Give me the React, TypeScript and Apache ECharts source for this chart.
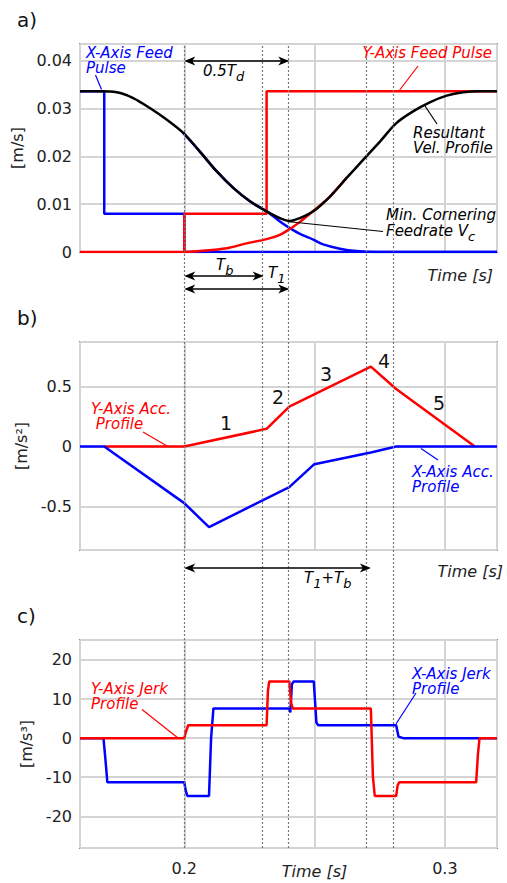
import React, { useEffect, useRef } from 'react';
import * as echarts from 'echarts';

const FONT = 'DejaVu Sans';
const X_MIN = 0.16;
const X_MAX = 0.32;
const eventTimes = [0.2, 0.2316, 0.2403, 0.2716, 0.2813];

// Panel a) velocities [t, m/s]
const xFeedPulse = [[0.16, 0.0336], [0.1693, 0.0336], [0.1693, 0.008], [0.2, 0.008], [0.2, 0], [0.32, 0]];
const yFeedPulse = [[0.16, 0], [0.2, 0], [0.2, 0.008], [0.2316, 0.008], [0.2316, 0.0336], [0.32, 0.0336]];
const resultantVel = [
  [0.16, 0.0336], [0.1677, 0.0336], [0.1741, 0.0334], [0.1804, 0.0322], [0.1868, 0.0301], [0.1932, 0.0277],
  [0.1996, 0.0249], [0.206, 0.021], [0.2124, 0.0169], [0.2188, 0.0134], [0.2252, 0.0106], [0.2316, 0.0085],
  [0.2367, 0.0071], [0.2405, 0.0065], [0.2444, 0.0071], [0.2495, 0.0085], [0.2559, 0.0116], [0.2623, 0.0155],
  [0.2687, 0.0193], [0.2751, 0.0231], [0.2815, 0.027], [0.2878, 0.0294], [0.2942, 0.0313], [0.3007, 0.0327],
  [0.307, 0.0334], [0.3134, 0.0336], [0.32, 0.0336],
];
const xVel = [
  [0.1996, 0.0249], [0.206, 0.021], [0.2124, 0.0169], [0.2188, 0.0134], [0.2252, 0.0106], [0.2316, 0.0085],
  [0.2367, 0.0064], [0.2405, 0.005], [0.2444, 0.0038], [0.2495, 0.0026], [0.2533, 0.0016], [0.2597, 0.0007],
  [0.2661, 0.0002], [0.2738, 0], [0.32, 0],
];
const yVel = [
  [0.2, 0], [0.206, 0.0002], [0.2163, 0.0008], [0.2239, 0.0018], [0.2316, 0.0027], [0.2367, 0.0036],
  [0.2405, 0.0048], [0.2444, 0.0063], [0.2482, 0.008], [0.252, 0.0097], [0.2559, 0.0116], [0.2623, 0.0155],
];

// Panel b) accelerations [t, m/s^2]
const yAcc = [[0.1693, 0], [0.2, 0], [0.2316, 0.148], [0.2403, 0.333], [0.2716, 0.667], [0.2813, 0.48], [0.3115, 0]];
const xAcc = [[0.16, 0], [0.1693, 0], [0.2, -0.472], [0.2095, -0.672], [0.2403, -0.338], [0.2499, -0.147], [0.2716, -0.05], [0.2813, 0], [0.32, 0]];

// Panel c) jerks [t, m/s^3]
const xJerk = [
  [0.16, 0], [0.169, 0], [0.1697, -5], [0.1705, -11.3], [0.2, -11.3], [0.2006, -13.5], [0.2012, -14.8],
  [0.2095, -14.8], [0.2103, 0], [0.2112, 7.6], [0.2403, 7.6], [0.2407, 6.6], [0.2413, 13.8], [0.242, 14.5],
  [0.2497, 14.5], [0.2507, 4], [0.2514, 3.3], [0.2813, 3.3], [0.2822, 0.4], [0.284, 0], [0.32, 0],
];
const yJerk = [
  [0.16, 0], [0.2, 0], [0.2006, 1.5], [0.2015, 3.3], [0.2316, 3.3], [0.2321, 12], [0.2326, 14.5],
  [0.2403, 14.5], [0.241, 9], [0.2416, 7.6], [0.2716, 7.6], [0.2724, -10], [0.2731, -14.8], [0.2813, -14.8],
  [0.2819, -12], [0.2825, -11.3], [0.312, -11.3], [0.3127, -4], [0.3133, 0], [0.32, 0],
];

const BLUE = '#0000ff';
const RED = '#ff0000';
const GRID_COLOR = '#d4d4d4';
const LABEL_COLOR = '#222';

function lineSeries(data: number[][], color: string, idx: number, smooth = false, z = 3) {
  return {
    type: 'line', data, xAxisIndex: idx, yAxisIndex: idx, showSymbol: false, symbol: 'none',
    smooth: smooth ? 0.35 : false,
    lineStyle: { color, width: 2.5 }, z, silent: true,
  };
}

function xAxisFor(i: number) {
  const base: any = {
    type: 'value', gridIndex: i, min: X_MIN, max: X_MAX, splitNumber: 3,
    axisLine: { show: false, onZero: false }, axisTick: { show: false },
    splitLine: { show: i < 3, lineStyle: { color: GRID_COLOR, width: 2 } },
    axisLabel: { show: false },
  };
  if (i === 3) return { ...base, show: false };
  if (i < 2) {
    base.name = 'Time [s]';
    base.nameLocation = 'end';
    base.nameGap = i === 0 ? -4 : 6;
    base.nameTextStyle = {
      fontFamily: FONT, fontSize: 16, fontStyle: 'italic', color: LABEL_COLOR,
      align: 'right', verticalAlign: 'top', padding: [i === 0 ? 15 : 13, 0, 0, 0],
    };
  }
  if (i === 2) {
    base.axisLabel = {
      show: true, fontFamily: FONT, fontSize: 16, color: LABEL_COLOR, margin: 12,
      showMinLabel: false, showMaxLabel: false,
      formatter: (v: number) => {
        if (Math.abs(v - 0.2) < 1e-6) return '0.2';
        if (Math.abs(v - 0.3) < 1e-6) return '0.3';
        if (Math.abs(v - 0.25) < 1e-6) return '{t|Time [s]}';
        return '';
      },
      rich: { t: { fontFamily: FONT, fontSize: 16, fontStyle: 'italic', color: LABEL_COLOR, padding: [3, 0, 0, 0] } },
    };
  }
  return base;
}

function yAxisFor(i: number, cfg: any, name: string, nameGap: number) {
  return {
    type: 'value', gridIndex: i,
    axisLine: { show: false }, axisTick: { show: false },
    splitLine: { show: true, lineStyle: { color: GRID_COLOR, width: 2 } },
    axisLabel: { fontFamily: FONT, fontSize: 16, color: LABEL_COLOR, margin: 8, ...(cfg.label || {}) },
    name, nameLocation: 'middle', nameGap,
    nameTextStyle: { fontFamily: FONT, fontSize: 16, color: LABEL_COLOR },
    ...cfg.scale,
  };
}

function buildOption() {
  const grids = [
    { left: 80, right: 10, top: 44, height: 208 },
    { left: 80, right: 10, top: 342, height: 208 },
    { left: 80, right: 10, top: 640, height: 208 },
    { left: 80, right: 10, top: 44, height: 804 },
  ].map((g, i) => ({ ...g, show: i < 3, borderColor: '#333', borderWidth: 1.5, containLabel: false }));

  return {
    animation: false,
    backgroundColor: '#fff',
    grid: grids,
    xAxis: [0, 1, 2, 3].map(xAxisFor),
    yAxis: [
      yAxisFor(0, {
        scale: { min: 0, max: 0.0435, interval: 0.01 },
        label: { showMaxLabel: false, formatter: (v: number) => (Math.abs(v) < 1e-9 ? '0' : v.toFixed(2)) },
      }, '[m/s]', 46),
      yAxisFor(1, {
        scale: { min: -0.863, max: 0.8725, splitNumber: 3 },
        label: { showMinLabel: false, showMaxLabel: false },
      }, '[m/s²]', 41),
      yAxisFor(2, {
        scale: { min: -28.1, max: 25.1, splitNumber: 5 },
        label: { showMinLabel: false, showMaxLabel: false },
      }, '[m/s³]', 36),
      { type: 'value', gridIndex: 3, min: 0, max: 1, show: false },
    ],
    series: [
      {
        type: 'line', xAxisIndex: 3, yAxisIndex: 3, data: [], z: 1, silent: true,
        markLine: {
          silent: true, symbol: 'none', label: { show: false },
          lineStyle: { type: [2, 2], color: '#777', width: 1.2 },
          data: eventTimes.map((t) => ({ xAxis: t })),
        },
      },
      lineSeries(xFeedPulse, BLUE, 0),
      lineSeries(xVel, BLUE, 0, true),
      lineSeries(yFeedPulse, RED, 0),
      lineSeries(yVel, RED, 0, true),
      lineSeries(resultantVel, '#000', 0, true, 4),
      lineSeries(yAcc, RED, 1),
      lineSeries(xAcc, BLUE, 1),
      lineSeries(xJerk, BLUE, 2),
      lineSeries(yJerk, RED, 2),
    ],
  };
}

function txt(text: string, x: number, y: number, color: string, opts: any = {}) {
  return {
    type: 'text', x, y, z: 10, silent: true,
    style: {
      text, fill: color, fontFamily: FONT, fontSize: opts.fontSize || 15,
      fontStyle: opts.italic === false ? 'normal' : 'italic',
      align: opts.align || 'left', verticalAlign: opts.vAlign || 'middle', rich: opts.rich,
      lineHeight: opts.lineHeight,
    },
  };
}

// two-line label; y is the centre of the first line
function txt2(text: string, x: number, y: number, color: string, align = 'left') {
  return txt(text, x, y - 7.5, color, { lineHeight: 15, vAlign: 'top', align });
}

function leader(x1: number, y1: number, x2: number, y2: number, color: string) {
  return { type: 'line', z: 10, silent: true, shape: { x1, y1, x2, y2 }, style: { stroke: color, lineWidth: 1.2 } };
}

function arrow(x1: number, x2: number, y: number) {
  return [
    { type: 'line', z: 10, silent: true, shape: { x1: x1 + 2, y1: y, x2: x2 - 2, y2: y }, style: { stroke: '#000', lineWidth: 1.6 } },
    { type: 'polygon', z: 10, silent: true, shape: { points: [[x1, y], [x1 + 11, y - 4.5], [x1 + 8, y], [x1 + 11, y + 4.5]] }, style: { fill: '#000' } },
    { type: 'polygon', z: 10, silent: true, shape: { points: [[x2, y], [x2 - 11, y - 4.5], [x2 - 8, y], [x2 - 11, y + 4.5]] }, style: { fill: '#000' } },
  ];
}

const subRich = {
  s: { fontFamily: FONT, fontSize: 13, fontStyle: 'italic', color: '#000', verticalAlign: 'top', padding: [6, 0, 0, 0] },
  m: { fontFamily: FONT, fontSize: 15, fontStyle: 'italic', color: '#000', verticalAlign: 'top' },
};

function buildGraphic(px: (t: number) => number) {
  const g: any[] = [];
  // panel letters
  g.push(txt('a)', 17, 20, '#111', { fontSize: 20, italic: false }));
  g.push(txt('b)', 17, 318, '#111', { fontSize: 20, italic: false }));
  g.push(txt('c)', 17, 616, '#111', { fontSize: 20, italic: false }));

  // panel a
  g.push(txt2('X-Axis Feed\nPulse', 86, 53, BLUE));
  g.push(leader(95.5, 75, 101.5, 89.5, BLUE));
  g.push(txt('Y-Axis Feed Pulse', 492, 53, RED, { align: 'right' }));
  g.push(leader(418, 66, 399, 91, RED));
  g.push(txt2('Resultant\nVel. Profile', 413, 133, '#000'));
  g.push(leader(437, 124, 425, 106, '#000'));
  g.push(txt('Min. Cornering', 386, 215, '#000'));
  g.push(txt('{m|Feedrate V}{s|c}', 386, 233, '#000', { rich: subRich }));
  g.push(leader(287, 221.5, 383, 231.5, '#000'));
  g.push(...arrow(px(0.2), px(0.2403), 61));
  g.push(txt('{m|0.5T}{s|d}', 203, 73, '#000', { rich: subRich }));
  g.push(...arrow(px(0.2), px(0.2316) - 3, 276));
  g.push(txt('{m|T}{s|b}', 216, 267, '#000', { rich: subRich }));
  g.push(txt('{m|T}{s|1}', 268, 275, '#000', { rich: subRich }));
  g.push(...arrow(px(0.2), px(0.2403), 289));

  // panel b
  g.push(txt2('Y-Axis Acc.\n Profile', 91, 409, RED));
  g.push(leader(143, 432, 167, 446, RED));
  g.push(txt2('X-Axis Acc.\nProfile', 412, 472, BLUE));
  g.push(leader(438, 460, 421, 448.5, BLUE));
  const nums: [string, number, number][] = [['1', 226, 423], ['2', 278, 397], ['3', 326, 374], ['4', 384, 361], ['5', 439, 403]];
  nums.forEach(([s, x, y]) => g.push(txt(s, x, y, '#111', { fontSize: 19, italic: false, align: 'center' })));
  g.push(...arrow(px(0.2), px(0.2716), 568));
  g.push(txt('{m|T}{s|1}{m|+T}{s|b}', 304, 580, '#000', { rich: subRich }));

  // panel c
  g.push(txt2('Y-Axis Jerk\nProfile', 91, 689, RED));
  g.push(leader(142, 709.5, 178, 738, RED));
  g.push(txt2('X-Axis Jerk\nProfile', 412, 674, BLUE));
  g.push(leader(416, 693, 396, 724, BLUE));
  return g;
}

export default function App() {
  const ref = useRef<HTMLDivElement>(null);
  useEffect(() => {
    document.body.style.margin = '0';
    if (!ref.current) return;
    const chart = echarts.init(ref.current, null, { renderer: 'svg' });
    chart.setOption(buildOption() as any);
    const px = (t: number) => chart.convertToPixel({ xAxisIndex: 0 }, t) as unknown as number;
    chart.setOption({ graphic: buildGraphic(px) } as any);
    return () => chart.dispose();
  }, []);
  return <div ref={ref} style={{ width: 507, height: 883, background: '#fff' }} />;
}
